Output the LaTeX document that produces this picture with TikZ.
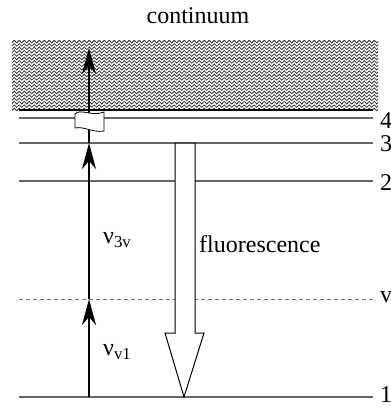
\documentclass[tikz,border=0pt]{standalone}
\usepackage{fontspec}
\setmainfont{Liberation Serif}
\usetikzlibrary{arrows.meta,decorations.pathmorphing}
\begin{document}
\begin{tikzpicture}[x=1pt,y=-1pt,
  level/.style={draw=black!60,line width=1.3pt},
  vlevel/.style={draw=black!55,line width=1pt,dash pattern=on 4pt off 3pt},
  lbl/.style={anchor=west,inner sep=0pt,font=\fontsize{24}{28}\selectfont},
  txt/.style={inner sep=0pt,font=\fontsize{24}{28}\selectfont},
  uparrow/.style={line width=2pt,-{Stealth[length=26pt,width=14pt,inset=8pt]}},
  openarrow/.style={draw=black,line width=1pt,fill=white},
  flag/.style={draw=black,line width=0.8pt,fill=white},
  wave/.style={black!80,line width=0.75pt,decorate,decoration={zigzag,segment length=5pt,amplitude=1.3pt}}]
\useasboundingbox (0,0) rectangle (391,408);
% continuum
\node[txt] (cont) at (198,16) {continuum};
\begin{scope}
  \clip (12,40) rectangle (378,110);
  \foreach \y in {41.5,44.9,...,110}
    \draw[wave] (8,\y) -- (382,\y);
\end{scope}
\draw[black,line width=1.3pt] (19,110) -- (373,110);
% levels
\coordinate (l4a) at (19,118);  \coordinate (l4b) at (373,118);
\coordinate (l3a) at (19,143);  \coordinate (l3b) at (373,143);
\coordinate (l2a) at (19,181);  \coordinate (l2b) at (373,181);
\coordinate (lva) at (19,299);  \coordinate (lvb) at (373,299);
\coordinate (l1a) at (19,397);  \coordinate (l1b) at (373,397);
\draw[level] (l4a) -- (l4b);
\draw[level] (l3a) -- (l3b);
\draw[level] (l2a) -- (l2b);
\draw[vlevel] (lva) -- (lvb);
\draw[level] (l1a) -- (l1b);
\node[lbl] (n4) at (380,121) {4};
\node[lbl] (n3) at (380,144) {3};
\node[lbl] (n2) at (380,183) {2};
\node[lbl] (nv) at (380,297) {v};
\node[lbl] (n1) at (380,395) {1};
% excitation arrows
\coordinate (a1) at (89,397);
\coordinate (av) at (89,299);
\coordinate (a3) at (89,143);
\coordinate (at) at (89,48);
\draw[uparrow] (a1) -- (av);
\draw[uparrow] (av) -- (a3);
\draw[uparrow] (a3) -- (at);
% break flag
\draw[flag] (75,114) .. controls (80,108) and (92,117) .. (104,112)
  -- (104,131) .. controls (93,133) and (84,126) .. (75,128) -- cycle;
% fluorescence open arrow
\draw[openarrow] (175,143) -- (175,333) -- (165,333) -- (184,397) -- (204,333) -- (195,333) -- (195,143) -- cycle;
% labels
\node[txt,anchor=west] (nu3v) at (103,240) {ν\textsubscript{3v}};
\node[txt,anchor=west] (nuv1) at (103,352) {ν\textsubscript{v1}};
\node[txt,anchor=base west] (fl) at (199,252) {fluorescence};
\end{tikzpicture}
\end{document}
